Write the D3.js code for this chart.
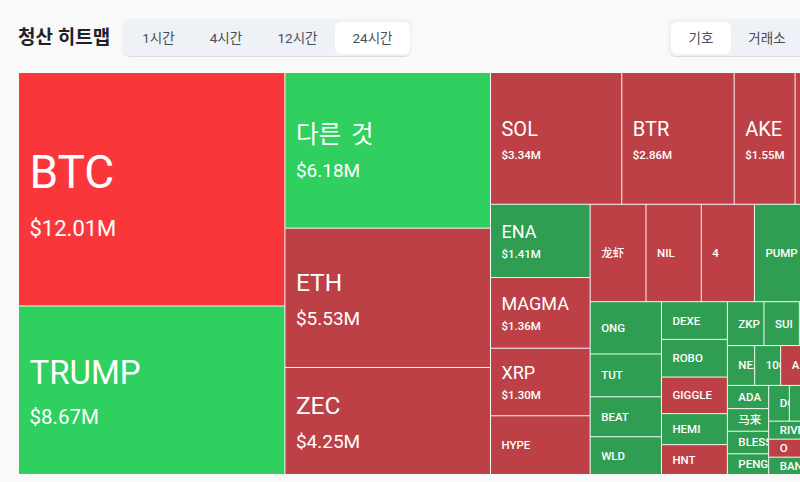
<!DOCTYPE html>
<html>
<head>
<meta charset="utf-8">
<script src="https://cdn.jsdelivr.net/npm/d3@7"></script>
<style>
  html, body { margin: 0; padding: 0; background: #f9f9f9; overflow: hidden; }
  text { font-family: Roboto, "Noto Sans CJK KR", sans-serif; }
</style>
</head>
<body>
<div id="chart"></div>
<script>
// values, tiles without a name sit past the right edge of the window
const names = ['BTC', 'TRUMP', '다른 것', 'ETH', 'ZEC', 'SOL', 'BTR', 'AKE', '', 'ENA', 'MAGMA', 'XRP', 'HYPE',
  '龙虾', 'NIL', '4', 'PUMP', '', 'ONG', 'TUT', 'BEAT', 'WLD', 'DEXE', 'ROBO', 'GIGGLE', 'HEMI', 'HNT',
  'ZKP', 'SUI', '', '', 'NEAR', '1000', 'A', '', '', 'ADA', '马来', 'BLESS', 'PENGU',
  'DOOD', '', '', '', 'RIVER', 'O', 'BANK', '', ''];
const amounts = [12.01, 8.67, 6.18, 5.53, 4.25, 3.34, 2.86, 1.55, 1.55, 1.41, 1.36, 1.30, 1.13,
  1.05, 1.04, 1.00, 0.98, 0.93, 0.72, 0.59, 0.55, 0.52, 0.48, 0.48, 0.465, 0.395, 0.38,
  0.31, 0.30, 0.26, 0.22, 0.21, 0.20, 0.20, 0.19, 0.19, 0.185, 0.18, 0.18, 0.165,
  0.143, 0.15, 0.155, 0.155, 0.135, 0.135, 0.13, 0.27, 0.23];
// 1 = shorts (green), 0 = longs (red)
const sides = [0, 1, 1, 0, 0, 0, 0, 0, 0, 1, 0, 0, 0,
  0, 0, 0, 1, 1, 1, 1, 1, 1, 1, 1, 0, 1, 0,
  1, 1, 1, 1, 1, 1, 0, 1, 1, 1, 1, 1, 1,
  1, 1, 1, 1, 1, 0, 1, 1, 1];
// how many tiles go in each squarified row
const rowSizes = [2, 3, 4, 4, 5, 4, 5, 4, 5, 4, 4, 3, 2];
const timeTabs = ['1시간', '4시간', '12시간', '24시간'];
const groupTabs = ['기호', '거래소'];

const width = 800, height = 482;
const svg = d3.select('#chart').append('svg').attr('width', width).attr('height', height).style('display', 'block');

const defs = svg.append('defs');
defs.append('filter').attr('id', 'tabShadow')
  .attr('x', '-5%').attr('y', '-10%').attr('width', '110%').attr('height', '130%')
  .append('feDropShadow').attr('dx', 0).attr('dy', 1).attr('stdDeviation', 0.6)
  .attr('flood-color', '#000').attr('flood-opacity', 0.12);

svg.append('text').attr('x', 18).attr('y', 44)
  .attr('font-size', 19).attr('font-weight', 700).attr('fill', '#1e2329').text('청산 히트맵');

function drawTabs(labels, x, widths, activeIndex, totalWidth) {
  const g = svg.append('g');
  g.append('rect').attr('x', x).attr('y', 19).attr('width', totalWidth).attr('height', 37)
    .attr('rx', 8).attr('fill', '#eef1f5').attr('filter', 'url(#tabShadow)');
  let cx = x + 3;
  labels.forEach((label, i) => {
    if (i === activeIndex) {
      g.append('rect').attr('x', cx).attr('y', 22).attr('width', widths[i]).attr('height', 32)
        .attr('rx', 6).attr('fill', '#fff');
    }
    g.append('text').attr('x', cx + widths[i] / 2).attr('y', 43).attr('text-anchor', 'middle')
      .attr('font-size', 13.5).attr('fill', '#474d57').text(label);
    cx += widths[i];
  });
}
drawTabs(timeTabs, 122, [67, 68, 75, 75], 3, 290);
drawTabs(groupTabs, 668, [60, 72], 0, 160);

// squarify-style tile, but the row lengths come from rowSizes
function rowTile(parent, x0, y0, x1, y1) {
  const nodes = parent.children;
  let start = 0, left = parent.value;
  rowSizes.forEach(size => {
    const row = { value: 0, children: nodes.slice(start, start + size) };
    row.value = d3.sum(row.children, d => d.value);
    const dx = x1 - x0, dy = y1 - y0;
    if (dx < dy) {
      const rowY = left ? y0 + dy * row.value / left : y1;
      d3.treemapDice(row, x0, y0, x1, rowY);
      y0 = rowY;
    } else {
      const rowX = left ? x0 + dx * row.value / left : x1;
      d3.treemapSlice(row, x0, y0, rowX, y1);
      x0 = rowX;
    }
    left -= row.value;
    start += size;
  });
}

const leaves = names.map((name, i) => ({ name, amount: amounts[i], side: sides[i] }));
const root = d3.hierarchy({ children: leaves }).sum(d => d.amount || 0);
d3.treemap().tile(rowTile).size([836.5, 401]).paddingInner(1)(root);

// big tiles are brighter, amount label only from 1.3M up
const bright = d3.scaleThreshold().domain([6]);
const fillFor = d => bright.range(d.data.side ? ['#2f9e52', '#2fd05f'] : ['#bc4045', '#f9373b'])(d.data.amount);
const tierBreaks = [1.5, 4, 8, 10];
const titleSize = d3.scaleThreshold().domain([1.3, 1.5, 4, 8, 10]).range([11.5, 18, 20, 24.5, 33, 46]);
const amountSize = d3.scaleThreshold().domain(tierBreaks).range([11.5, 11.5, 19, 20.5, 22]);
const amountGap = d3.scaleThreshold().domain(tierBreaks).range([20, 23, 34, 40, 48]);
const titleShift = d3.scaleThreshold().domain(tierBreaks).range([-3, -2, -7, -6, -1]);

const plot = svg.append('g').attr('transform', 'translate(19,73)');
const tiles = plot.selectAll('g').data(root.leaves()).join('g')
  .attr('transform', d => `translate(${d.x0},${d.y0})`);

tiles.append('clipPath').attr('id', (d, i) => 'tile' + i)
  .append('rect').attr('width', d => d.x1 - d.x0).attr('height', d => d.y1 - d.y0);

tiles.append('rect')
  .attr('width', d => d.x1 - d.x0)
  .attr('height', d => d.y1 - d.y0)
  .attr('fill', fillFor);

const labels = tiles.append('g').attr('clip-path', (d, i) => `url(#tile${i})`).attr('fill', '#fff');

labels.append('text')
  .attr('x', 10.5)
  .attr('y', d => (d.y1 - d.y0) / 2 + (d.data.amount >= 1.3 ? titleShift(d.data.amount) : 4))
  .attr('font-size', d => titleSize(d.data.amount))
  .attr('font-weight', d => d.data.amount >= 1.3 ? 400 : 500)
  .attr('word-spacing', d => d.data.name === '다른 것' ? 4 : 0)
  .text(d => d.data.name);

labels.filter(d => d.data.amount >= 1.3).append('text')
  .attr('x', 10.5)
  .attr('y', d => (d.y1 - d.y0) / 2 + titleShift(d.data.amount) + amountGap(d.data.amount))
  .attr('font-size', d => amountSize(d.data.amount))
  .attr('font-weight', d => d.data.amount >= 4 ? 400 : 500)
  .text(d => d.data.name ? `$${d.data.amount.toFixed(2)}M` : '');
</script>
</body>
</html>
